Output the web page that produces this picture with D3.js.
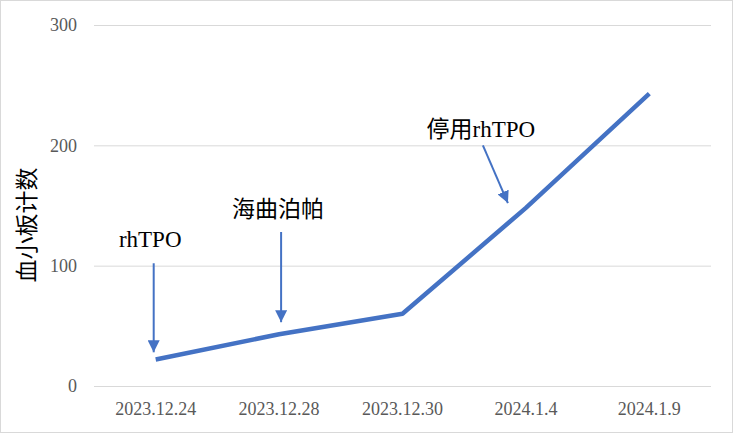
<!DOCTYPE html>
<html>
<head>
<meta charset="utf-8">
<script src="https://cdn.jsdelivr.net/npm/d3@7"></script>
<style>
  html, body { margin: 0; padding: 0; background: #fff; }
  svg { display: block; }
</style>
</head>
<body>
<svg id="chart" width="733" height="433"></svg>
<script>
const categories = ["2023.12.24", "2023.12.28", "2023.12.30", "2024.1.4", "2024.1.9"];
const plateletValues = [22, 43, 60, 148, 243];
const yTicks = [0, 100, 200, 300];
const yTitle = "血小板计数";

// annotations: label, category the arrow sits near, arrow start/end values
const notes = [
  { label: "rhTPO", cat: 0, fromVal: 102, toVal: 28, textVal: 115.5, dx: -2, tilt: 0, textDx: -3.5 },
  { label: "海曲泊帕", cat: 1, fromVal: 128, toVal: 53, textVal: 140.5, dx: 2, tilt: 0, textDx: -3 },
  { label: "停用rhTPO", cat: 3, fromVal: 200, toVal: 152, textVal: 207, dx: -18, tilt: 25, textDx: -2 }
];

const width = 733, height = 433;
const margin = { top: 25, right: 22, bottom: 47, left: 94 };
const boundsWidth = width - margin.left - margin.right;
const boundsHeight = height - margin.top - margin.bottom;

const svg = d3.select("#chart");
const serif = "'Liberation Serif', 'Times New Roman', 'Noto Sans CJK SC', serif";

svg.append("rect")
  .attr("x", 0.5).attr("y", 0.5)
  .attr("width", width - 1).attr("height", height - 1)
  .style("fill", "#fff").style("stroke", "#d9d9d9");

const scaleX = d3.scaleBand()
  .domain(categories)
  .range([0, boundsWidth])
  .padding(0);

const scaleY = d3.scaleLinear()
  .domain([0, 300])
  .range([boundsHeight, 0]);

const g = svg.append("g")
  .attr("transform", `translate(${margin.left}, ${margin.top})`);

// gridlines + y labels
const yAxis = d3.axisLeft(scaleY).tickValues(yTicks).tickSize(-boundsWidth).tickPadding(17);
g.append("g")
  .call(yAxis)
  .call(a => a.select(".domain").remove())
  .call(a => a.selectAll("line").style("stroke", "#d9d9d9").style("stroke-width", 1))
  .call(a => a.selectAll("text")
    .style("font-family", serif).style("font-size", "18px").style("fill", "#595959"));

// x labels
const xAxis = d3.axisBottom(scaleX).tickSize(0).tickPadding(16);
g.append("g")
  .attr("transform", `translate(0, ${boundsHeight})`)
  .call(xAxis)
  .call(a => a.select(".domain").remove())
  .call(a => a.selectAll("text")
    .style("font-family", serif).style("font-size", "18px").style("fill", "#595959"));

// y title
svg.append("text")
  .attr("transform", `translate(25, 225) rotate(-90)`)
  .attr("text-anchor", "middle")
  .attr("dominant-baseline", "central")
  .style("font-family", "'Noto Sans CJK SC', sans-serif")
  .style("font-size", "23px")
  .style("fill", "#000")
  .text(yTitle);

// line
const cx = d => scaleX(d) + scaleX.bandwidth() / 2;
const line = d3.line()
  .x((d, i) => cx(categories[i]))
  .y(d => scaleY(d));

g.append("path")
  .datum(plateletValues)
  .attr("d", line)
  .style("fill", "none")
  .style("stroke", "#4472c4")
  .style("stroke-width", 4.5)
  .style("stroke-linejoin", "round");

// arrows
svg.append("defs").append("marker")
  .attr("id", "head")
  .attr("viewBox", "0 0 10 10")
  .attr("refX", 10).attr("refY", 5)
  .attr("markerWidth", 6).attr("markerHeight", 6)
  .attr("markerUnits", "strokeWidth")
  .attr("orient", "auto")
  .append("path")
  .attr("d", "M0,0 L10,5 L0,10 Z")
  .style("fill", "#4472c4");

notes.forEach(n => {
  const x = cx(categories[n.cat]) + n.dx;
  g.append("line")
    .attr("x1", x - n.tilt).attr("y1", scaleY(n.fromVal))
    .attr("x2", x).attr("y2", scaleY(n.toVal))
    .style("stroke", "#4472c4")
    .style("stroke-width", 2)
    .attr("marker-end", "url(#head)");
  g.append("text")
    .attr("x", x - n.tilt + n.textDx)
    .attr("y", scaleY(n.textVal))
    .attr("text-anchor", "middle")
    .style("font-family", serif)
    .style("font-size", "23px")
    .style("fill", "#000")
    .text(n.label);
});
</script>
</body>
</html>
